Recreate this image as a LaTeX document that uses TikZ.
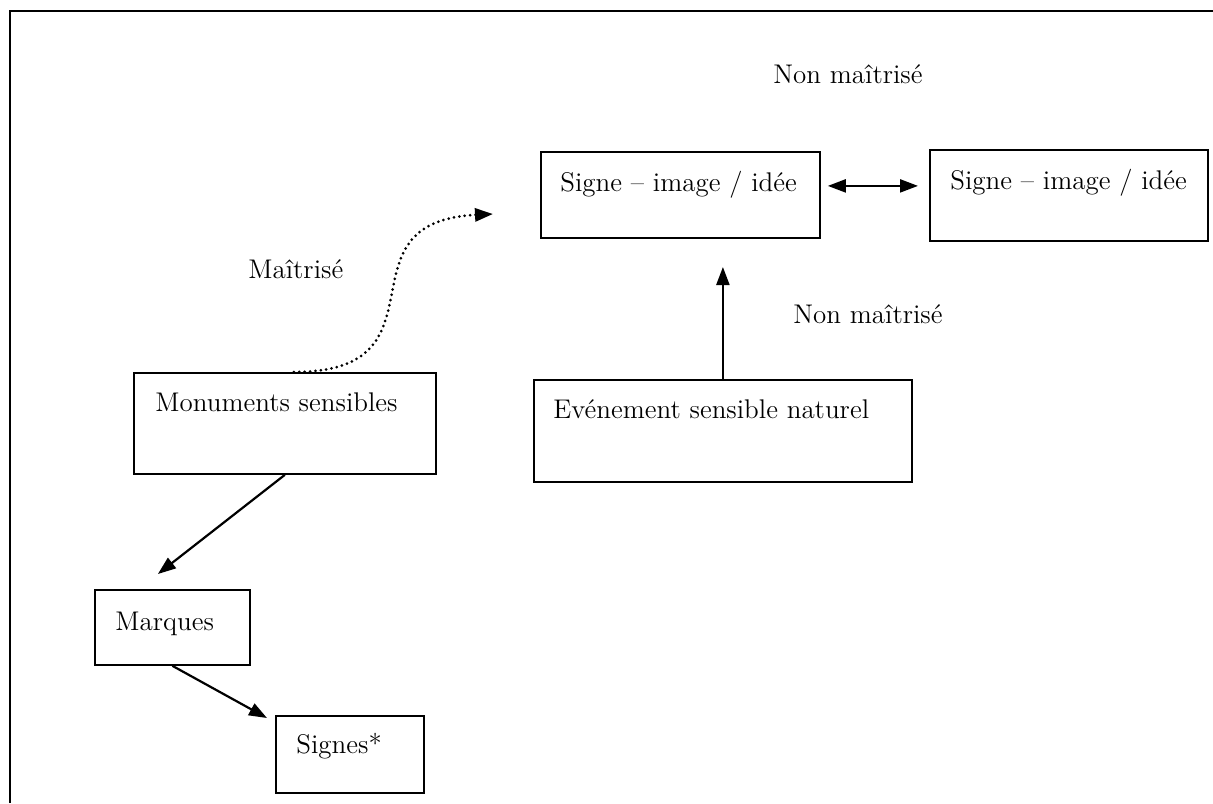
\documentclass[tikz,border=0pt]{standalone}
\usepackage{fontspec}
\usetikzlibrary{arrows.meta}
\begin{document}
\begin{tikzpicture}[x=0.5pt, y=-0.5pt,
    every node/.style={font=\fontsize{13.5}{16}\selectfont},
    box/.style={draw, line width=0.9pt, anchor=north west, inner sep=0pt},
    lbl/.style={anchor=base west, inner sep=0pt},
    link/.style={line width=1.1pt, -{Triangle[length=9pt,width=6.5pt]}},
    dotline/.style={line width=1.5pt, line cap=round, dash pattern=on 0pt off 2.7pt,
      -{Triangle[length=9pt,width=6.5pt]}}]
  \useasboundingbox (0,0) rectangle (1213,803);
  \draw[line width=1.2pt] (10,803) -- (10,11) -- (1213,11);

  \node[box, minimum width=139.5pt, minimum height=43pt] (imgA) at (540,151) {};
  \node[lbl] (imgAtxt) at (560,191) {Signe – image / idée};
  \node[box, minimum width=139pt, minimum height=45.5pt] (imgB) at (929,149) {};
  \node[lbl] (imgBtxt) at (950,189) {Signe – image / idée};
  \node[box, minimum width=189pt, minimum height=51pt] (event) at (533,379) {};
  \node[lbl] (eventtxt) at (553,418) {Evénement sensible naturel};
  \node[box, minimum width=151pt, minimum height=50.5pt] (monu) at (133,372) {};
  \node[lbl] (monutxt) at (155,411) {Monuments sensibles};
  \node[box, minimum width=77.5pt, minimum height=37.5pt] (marq) at (94,589) {};
  \node[lbl] (marqtxt) at (115,630) {Marques};
  \node[box, minimum width=74pt, minimum height=38.5pt] (signes) at (275,715) {};
  \node[lbl] (signestxt) at (296,753) {Signes*};

  \node[lbl] (nonA) at (773,83) {Non maîtrisé};
  \node[lbl] (nonB) at (793,323) {Non maîtrisé};
  \node[lbl] (maitr) at (248,278) {Maîtrisé};

  \coordinate (tipA) at (493,214);
  \draw[dotline] ([xshift=4.5pt]monu.north) .. controls +(160,0) and +(-160,8) .. (tipA);
  \draw[link, {Triangle[length=9pt,width=6.5pt]}-{Triangle[length=9pt,width=6.5pt]}]
    ([xshift=3.5pt,yshift=4.5pt]imgA.east) -- ([xshift=-5.5pt,yshift=4.75pt]imgB.west);
  \draw[link] (event.north) -- ++(0,-112);
  \draw[link] (monu.south) -- ([xshift=-7.25pt,yshift=7.5pt]marq.north);
  \draw[link] (marq.south) -- ([xshift=-4pt,yshift=-1.5pt]signes.north west);
\end{tikzpicture}
\end{document}
